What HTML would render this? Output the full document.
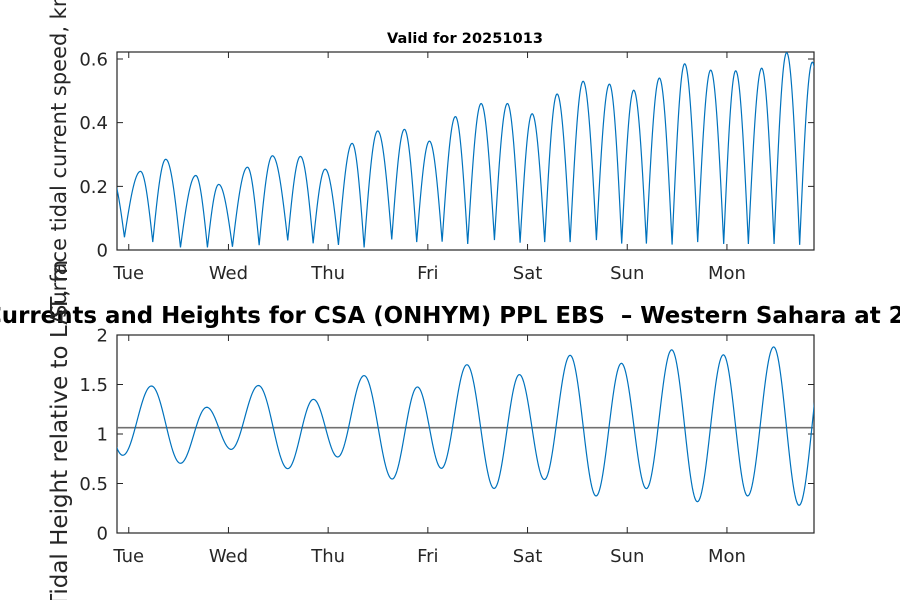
<!DOCTYPE html>
<html><head><meta charset="utf-8"><style>
html,body{margin:0;padding:0;background:#fff;}
svg{display:block;font-family:"DejaVu Sans","Liberation Sans",sans-serif;}
</style></head><body>
<svg id="chart" width="900" height="600" viewBox="0 0 900 600" xmlns="http://www.w3.org/2000/svg">
<defs>
<clipPath id="clipTop"><rect x="117" y="52" width="697" height="198"/></clipPath>
<clipPath id="clipBot"><rect x="117" y="335" width="697" height="198"/></clipPath>
</defs>
<text x="-15" y="323" font-size="22.9" font-weight="bold" fill="#000" xml:space="preserve" style="white-space:pre">Currents and Heights for CSA (ONHYM) PPL EBS  – Western Sahara at 2025-10-13</text>
<text x="387" y="43" font-size="14.5" font-weight="bold" fill="#000" textLength="156">Valid for 20251013</text>
<text transform="translate(67,608) rotate(-90)" font-size="23" fill="#262626">Tidal Height relative to LAT, m</text>
<text transform="translate(66,318) rotate(-90)" font-size="21" fill="#262626">Surface tidal current speed, kn</text>
<g id="gTop"></g>
<g id="gBot"></g>
</svg>
<script>
// Days of week ticks (hours from Tuesday 00:00)
const dayLabels = ["Tue","Wed","Thu","Fri","Sat","Sun","Mon"];
const dayTickHours = [0,24,48,72,96,120,144];
const xDomain = [-2.83, 164.96];

// Current speed extrema (hours, knots) – first and last are context points
const speedHours = [-4.1,-1.04,2.82,5.78,8.91,12.45,16.13,18.94,21.66,24.96,28.57,31.39,34.59,38.27,41.33,44.39,47.28,50.48,53.77,56.66,59.93,63.31,66.36,69.32,72.38,75.44,78.64,81.60,84.83,88.03,91.15,94.21,97.10,100.13,103.12,106.25,109.38,112.58,115.71,118.67,121.56,124.61,127.74,130.80,133.83,136.96,140.09,143.22,146.11,149.16,152.37,155.35,158.38,161.51,164.57,167.6];
const speedValues = [0.23,0.04,0.247,0.025,0.285,0.008,0.234,0.008,0.206,0.01,0.26,0.015,0.296,0.03,0.294,0.021,0.254,0.016,0.335,0.008,0.374,0.033,0.379,0.025,0.342,0.026,0.419,0.019,0.46,0.031,0.46,0.023,0.428,0.025,0.49,0.025,0.53,0.031,0.521,0.02,0.502,0.02,0.54,0.017,0.585,0.025,0.565,0.019,0.563,0.019,0.571,0.019,0.62,0.016,0.59,0.016];
const speedTicks = [0,0.2,0.4,0.6];
const speedTickLabels = ["0","0.2","0.4","0.6"];
const speedDomain = [0,0.622];

// Tidal height extrema (hours, m)
const heightHours = [-7.6,-1.44,5.46,12.44,18.77,24.65,31.22,38.27,44.46,50.31,56.66,63.40,69.49,75.27,81.41,87.95,94.04,100.06,106.25,112.50,118.59,124.61,130.70,136.89,143.14,148.99,155.25,161.37,167.6];
const heightValues = [1.38,0.785,1.485,0.704,1.27,0.845,1.49,0.65,1.35,0.768,1.59,0.545,1.475,0.653,1.70,0.45,1.60,0.54,1.795,0.374,1.714,0.448,1.85,0.316,1.80,0.374,1.88,0.28,1.88];
const meanLevel = [1.064];
const heightTicks = [0,0.5,1,1.5,2];
const heightTickLabels = ["0","0.5","1","1.5","2"];
const heightDomain = [0,2];

const NS="http://www.w3.org/2000/svg";
function mk(tag, attrs, parent){const e=document.createElementNS(NS,tag);for(const k in attrs)e.setAttribute(k,attrs[k]);parent.appendChild(e);return e;}

function drawAxes(g, top, bottom, yDom, yTicks, yLabels, prefix){
  const L=117,R=814;
  const xs=h=>L+(h-xDomain[0])/(xDomain[1]-xDomain[0])*(R-L);
  const ys=v=>bottom-(v-yDom[0])/(yDom[1]-yDom[0])*(bottom-top);
  const box=mk('rect',{x:L,y:top,width:R-L,height:bottom-top,fill:'none',stroke:'#262626','stroke-width':1.2},g);
  
  
  dayTickHours.forEach((h,i)=>{
    const x=xs(h);
    const t=mk('path',{d:`M${x},${bottom}v-6M${x},${top}v6`,stroke:'#262626','stroke-width':1},g);
    
    
    const lb=mk('text',{x:x,y:bottom+29,'text-anchor':'middle','font-size':18,fill:'#262626'},g);
    lb.textContent=dayLabels[i];
    
    
  });
  yTicks.forEach((v,i)=>{
    const y=ys(v);
    const t=mk('path',{d:`M${L},${y}h6M${R},${y}h-6`,stroke:'#262626','stroke-width':1},g);
    
    
    const lb=mk('text',{x:L-9,y:y+6.5,'text-anchor':'end','font-size':18,fill:'#262626'},g);
    lb.textContent=yLabels[i];
    
    
  });
  return {xs,ys};
}

// Top: current speed
(function(){
  const g=document.getElementById('gTop');
  const {xs,ys}=drawAxes(g,52,250,speedDomain,speedTicks,speedTickLabels,'speed');
  let d='';
  for(let i=0;i<speedHours.length-1;i++){
    const h0=speedHours[i],h1=speedHours[i+1],v0=speedValues[i],v1=speedValues[i+1];
    const rising=v1>v0;
    for(let k=(i===0?0:1);k<=30;k++){
      const f=k/30;
      let v;
      if(rising) v=v0+(v1-v0)*Math.sin(Math.PI/2*f);
      else v=v1+(v0-v1)*Math.sin(Math.PI/2*(1-f));
      d+=(d?'L':'M')+xs(h0+(h1-h0)*f).toFixed(2)+','+ys(v).toFixed(2);
    }
  }
  const p=mk('path',{d:d,fill:'none',stroke:'#0072BD','stroke-width':1.2,'clip-path':'url(#clipTop)'},g);
  
  
})();

// Bottom: tidal height
(function(){
  const g=document.getElementById('gBot');
  const {xs,ys}=drawAxes(g,335,533,heightDomain,heightTicks,heightTickLabels,'height');
  const m=mk('line',{x1:117,x2:814,y1:ys(meanLevel[0]),y2:ys(meanLevel[0]),stroke:'#707070','stroke-width':1.6},g);
  
  
  let d='';
  for(let i=0;i<heightHours.length-1;i++){
    const h0=heightHours[i],h1=heightHours[i+1],v0=heightValues[i],v1=heightValues[i+1];
    for(let k=(i===0?0:1);k<=30;k++){
      const f=k/30;
      const v=v0+(v1-v0)*(1-Math.cos(Math.PI*f))/2;
      d+=(d?'L':'M')+xs(h0+(h1-h0)*f).toFixed(2)+','+ys(v).toFixed(2);
    }
  }
  const p=mk('path',{d:d,fill:'none',stroke:'#0072BD','stroke-width':1.2,'clip-path':'url(#clipBot)'},g);
  
  
})();
</script>
</body></html>
